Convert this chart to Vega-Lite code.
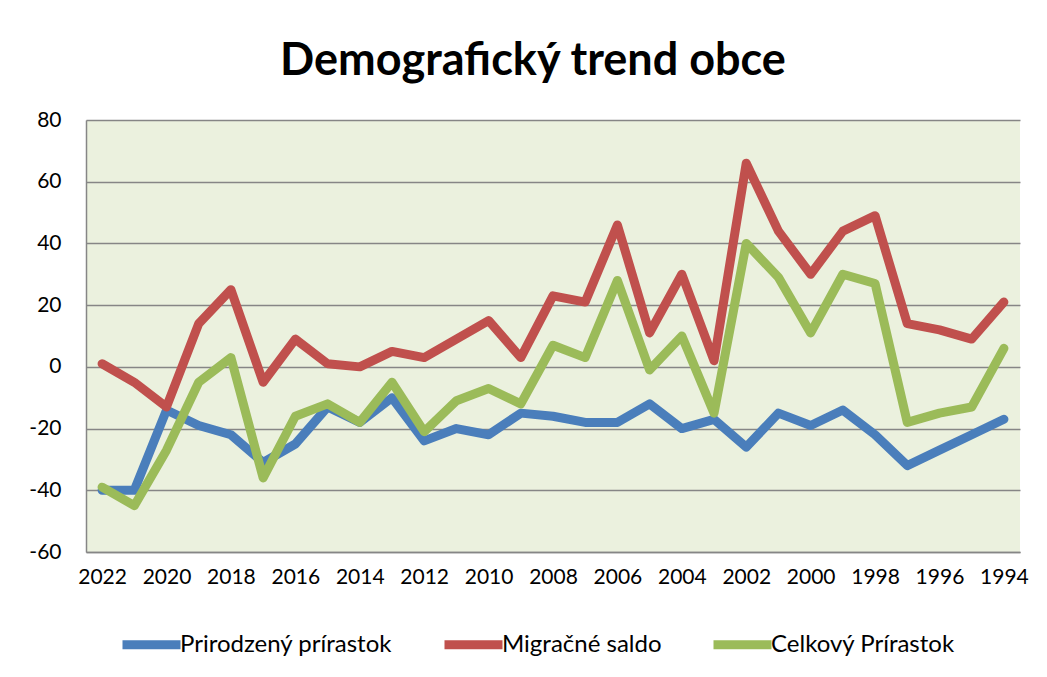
{
  "$schema": "https://vega.github.io/schema/vega-lite/v6.json",
  "width": 934,
  "height": 432,
  "autosize": {"type": "none"},
  "padding": {"left": 86, "top": 120, "right": 27, "bottom": 125},
  "background": "white",
  "title": {"text": "Demografický trend obce", "font": "Lato", "fontSize": 45, "fontWeight": "bold", "color": "#000000", "anchor": "middle", "frame": "group", "offset": 25, "dx": -20},
  "data": {"values": [
    {"year": 2022, "series": "Prirodzený prírastok", "value": -40},
    {"year": 2021, "series": "Prirodzený prírastok", "value": -40},
    {"year": 2020, "series": "Prirodzený prírastok", "value": -14},
    {"year": 2019, "series": "Prirodzený prírastok", "value": -19},
    {"year": 2018, "series": "Prirodzený prírastok", "value": -22},
    {"year": 2017, "series": "Prirodzený prírastok", "value": -31},
    {"year": 2016, "series": "Prirodzený prírastok", "value": -25},
    {"year": 2015, "series": "Prirodzený prírastok", "value": -13},
    {"year": 2014, "series": "Prirodzený prírastok", "value": -18},
    {"year": 2013, "series": "Prirodzený prírastok", "value": -10},
    {"year": 2012, "series": "Prirodzený prírastok", "value": -24},
    {"year": 2011, "series": "Prirodzený prírastok", "value": -20},
    {"year": 2010, "series": "Prirodzený prírastok", "value": -22},
    {"year": 2009, "series": "Prirodzený prírastok", "value": -15},
    {"year": 2008, "series": "Prirodzený prírastok", "value": -16},
    {"year": 2007, "series": "Prirodzený prírastok", "value": -18},
    {"year": 2006, "series": "Prirodzený prírastok", "value": -18},
    {"year": 2005, "series": "Prirodzený prírastok", "value": -12},
    {"year": 2004, "series": "Prirodzený prírastok", "value": -20},
    {"year": 2003, "series": "Prirodzený prírastok", "value": -17},
    {"year": 2002, "series": "Prirodzený prírastok", "value": -26},
    {"year": 2001, "series": "Prirodzený prírastok", "value": -15},
    {"year": 2000, "series": "Prirodzený prírastok", "value": -19},
    {"year": 1999, "series": "Prirodzený prírastok", "value": -14},
    {"year": 1998, "series": "Prirodzený prírastok", "value": -22},
    {"year": 1997, "series": "Prirodzený prírastok", "value": -32},
    {"year": 1996, "series": "Prirodzený prírastok", "value": -27},
    {"year": 1995, "series": "Prirodzený prírastok", "value": -22},
    {"year": 1994, "series": "Prirodzený prírastok", "value": -17},
    {"year": 2022, "series": "Migračné saldo", "value": 1},
    {"year": 2021, "series": "Migračné saldo", "value": -5},
    {"year": 2020, "series": "Migračné saldo", "value": -13},
    {"year": 2019, "series": "Migračné saldo", "value": 14},
    {"year": 2018, "series": "Migračné saldo", "value": 25},
    {"year": 2017, "series": "Migračné saldo", "value": -5},
    {"year": 2016, "series": "Migračné saldo", "value": 9},
    {"year": 2015, "series": "Migračné saldo", "value": 1},
    {"year": 2014, "series": "Migračné saldo", "value": 0},
    {"year": 2013, "series": "Migračné saldo", "value": 5},
    {"year": 2012, "series": "Migračné saldo", "value": 3},
    {"year": 2011, "series": "Migračné saldo", "value": 9},
    {"year": 2010, "series": "Migračné saldo", "value": 15},
    {"year": 2009, "series": "Migračné saldo", "value": 3},
    {"year": 2008, "series": "Migračné saldo", "value": 23},
    {"year": 2007, "series": "Migračné saldo", "value": 21},
    {"year": 2006, "series": "Migračné saldo", "value": 46},
    {"year": 2005, "series": "Migračné saldo", "value": 11},
    {"year": 2004, "series": "Migračné saldo", "value": 30},
    {"year": 2003, "series": "Migračné saldo", "value": 2},
    {"year": 2002, "series": "Migračné saldo", "value": 66},
    {"year": 2001, "series": "Migračné saldo", "value": 44},
    {"year": 2000, "series": "Migračné saldo", "value": 30},
    {"year": 1999, "series": "Migračné saldo", "value": 44},
    {"year": 1998, "series": "Migračné saldo", "value": 49},
    {"year": 1997, "series": "Migračné saldo", "value": 14},
    {"year": 1996, "series": "Migračné saldo", "value": 12},
    {"year": 1995, "series": "Migračné saldo", "value": 9},
    {"year": 1994, "series": "Migračné saldo", "value": 21},
    {"year": 2022, "series": "Celkový Prírastok", "value": -39},
    {"year": 2021, "series": "Celkový Prírastok", "value": -45},
    {"year": 2020, "series": "Celkový Prírastok", "value": -27},
    {"year": 2019, "series": "Celkový Prírastok", "value": -5},
    {"year": 2018, "series": "Celkový Prírastok", "value": 3},
    {"year": 2017, "series": "Celkový Prírastok", "value": -36},
    {"year": 2016, "series": "Celkový Prírastok", "value": -16},
    {"year": 2015, "series": "Celkový Prírastok", "value": -12},
    {"year": 2014, "series": "Celkový Prírastok", "value": -18},
    {"year": 2013, "series": "Celkový Prírastok", "value": -5},
    {"year": 2012, "series": "Celkový Prírastok", "value": -21},
    {"year": 2011, "series": "Celkový Prírastok", "value": -11},
    {"year": 2010, "series": "Celkový Prírastok", "value": -7},
    {"year": 2009, "series": "Celkový Prírastok", "value": -12},
    {"year": 2008, "series": "Celkový Prírastok", "value": 7},
    {"year": 2007, "series": "Celkový Prírastok", "value": 3},
    {"year": 2006, "series": "Celkový Prírastok", "value": 28},
    {"year": 2005, "series": "Celkový Prírastok", "value": -1},
    {"year": 2004, "series": "Celkový Prírastok", "value": 10},
    {"year": 2003, "series": "Celkový Prírastok", "value": -15},
    {"year": 2002, "series": "Celkový Prírastok", "value": 40},
    {"year": 2001, "series": "Celkový Prírastok", "value": 29},
    {"year": 2000, "series": "Celkový Prírastok", "value": 11},
    {"year": 1999, "series": "Celkový Prírastok", "value": 30},
    {"year": 1998, "series": "Celkový Prírastok", "value": 27},
    {"year": 1997, "series": "Celkový Prírastok", "value": -18},
    {"year": 1996, "series": "Celkový Prírastok", "value": -15},
    {"year": 1995, "series": "Celkový Prírastok", "value": -13},
    {"year": 1994, "series": "Celkový Prírastok", "value": 6}
  ]},
  "mark": {"type": "line", "strokeWidth": 9, "strokeJoin": "round", "strokeCap": "round"},
  "encoding": {
    "x": {
      "field": "year", "type": "ordinal", "sort": "descending",
      "axis": {
        "title": null,
        "values": [2022, 2020, 2018, 2016, 2014, 2012, 2010, 2008, 2006, 2004, 2002, 2000, 1998, 1996, 1994],
        "labelAngle": 0, "labelFont": "Lato", "labelFontSize": 21, "labelColor": "#000000",
        "ticks": false, "domainColor": "#868686", "domainWidth": 1.5, "labelPadding": 14, "grid": false
      }
    },
    "y": {
      "field": "value", "type": "quantitative",
      "scale": {"domain": [-60, 80], "nice": false},
      "axis": {
        "title": null,
        "values": [-60, -40, -20, 0, 20, 40, 60, 80],
        "labelExpr": "replace(datum.label, '−', '-')",
        "labelFont": "Lato", "labelFontSize": 21, "labelColor": "#000000",
        "ticks": false, "domainColor": "#868686", "domainWidth": 1.5, "labelPadding": 25,
        "grid": true, "gridColor": "#868686", "gridWidth": 1.5
      }
    },
    "color": {
      "field": "series", "type": "nominal",
      "scale": {"domain": ["Prirodzený prírastok", "Migračné saldo", "Celkový Prírastok"], "range": ["#4A7EBB", "#C0504D", "#9BBB59"]},
      "legend": {
        "orient": "none", "legendX": 32, "legendY": 491, "direction": "horizontal", "title": null,
        "symbolType": "stroke", "symbolStrokeWidth": 9, "symbolSize": 3364,
        "labelFont": "Lato", "labelFontSize": 24, "labelColor": "#000000", "labelLimit": 0,
        "columnPadding": 33, "labelOffset": -5
      }
    }
  },
  "config": {"view": {"fill": "#EBF1DE", "stroke": null}}
}
